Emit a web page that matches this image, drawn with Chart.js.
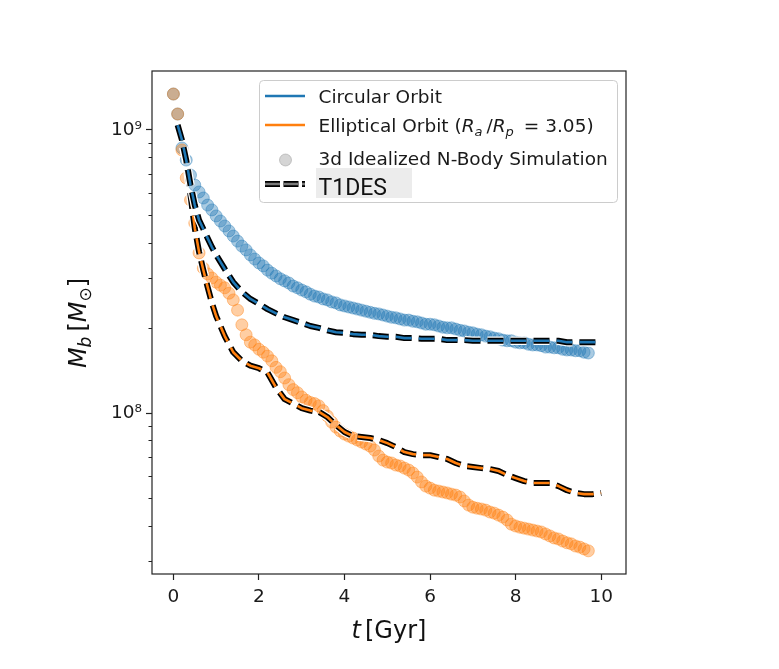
<!DOCTYPE html>
<html><head><meta charset="utf-8">
<script src="https://cdn.jsdelivr.net/npm/chart.js@4.4.0/dist/chart.umd.min.js"></script>
<style>html,body{margin:0;padding:0;background:#fff;}canvas{display:block;}</style>
</head><body>
<canvas id="c" width="779" height="669"></canvas>
<script>
// ---- data (masses in units of 1e8 Msun) ----
const MASS_UNIT = 1e8;
const tSim = [0.0,0.1,0.2,0.3,0.4,0.5,0.6,0.7,0.8,0.9,
  1.0,1.1,1.2,1.3,1.4,1.5,1.6,1.7,1.8,1.9,
  2.0,2.1,2.2,2.3,2.4,2.5,2.6,2.7,2.8,2.9,
  3.0,3.1,3.2,3.3,3.4,3.5,3.6,3.7,3.8,3.9,
  4.0,4.1,4.2,4.3,4.4,4.5,4.6,4.7,4.8,4.9,
  5.0,5.1,5.2,5.3,5.4,5.5,5.6,5.7,5.8,5.9,
  6.0,6.1,6.2,6.3,6.4,6.5,6.6,6.7,6.8,6.9,
  7.0,7.1,7.2,7.3,7.4,7.5,7.6,7.7,7.8,7.9,
  8.0,8.1,8.2,8.3,8.4,8.5,8.6,8.7,8.8,8.9,
  9.0,9.1,9.2,9.3,9.4,9.5,9.6,9.7];
const circularSim = [13.4,11.39,8.64,7.83,6.93,6.39,6.04,5.75,5.43,5.22,
  4.97,4.77,4.58,4.40,4.22,4.05,3.89,3.77,3.62,3.50,
  3.39,3.31,3.20,3.12,3.05,2.98,2.93,2.88,2.81,2.77,
  2.72,2.68,2.63,2.59,2.57,2.53,2.51,2.47,2.45,2.41,
  2.39,2.37,2.35,2.33,2.31,2.29,2.27,2.25,2.24,2.22,
  2.20,2.18,2.17,2.15,2.13,2.13,2.11,2.10,2.08,2.06,
  2.06,2.05,2.03,2.01,2.00,2.00,1.98,1.96,1.95,1.93,
  1.92,1.90,1.89,1.87,1.86,1.84,1.83,1.81,1.80,1.80,
  1.78,1.77,1.77,1.75,1.74,1.74,1.73,1.71,1.71,1.70,
  1.70,1.68,1.67,1.67,1.66,1.66,1.64,1.63];
const ellipticalSim = [13.4,11.39,8.50,6.77,5.66,4.69,3.68,3.25,3.10,3.00,
  2.90,2.83,2.77,2.65,2.51,2.31,2.05,1.89,1.78,1.74,
  1.68,1.64,1.59,1.53,1.45,1.40,1.33,1.26,1.21,1.18,
  1.14,1.11,1.09,1.08,1.06,1.02,0.976,0.929,0.892,0.864,
  0.843,0.829,0.816,0.803,0.790,0.777,0.764,0.740,0.705,0.682,
  0.671,0.666,0.655,0.650,0.639,0.629,0.614,0.594,0.571,0.552,
  0.543,0.534,0.530,0.526,0.522,0.517,0.513,0.505,0.489,0.473,
  0.465,0.461,0.458,0.454,0.447,0.443,0.436,0.429,0.419,0.405,
  0.399,0.395,0.392,0.389,0.386,0.383,0.380,0.374,0.368,0.362,
  0.359,0.353,0.348,0.345,0.339,0.336,0.331,0.326];
const tModel = [0.1,0.2,0.3,0.4,0.5,0.6,0.7,0.8,0.9,1.0,
  1.2,1.4,1.6,1.8,2.0,2.2,2.4,2.6,2.8,3.0,
  3.2,3.4,3.6,3.8,4.0,4.2,4.4,4.6,4.8,5.0,
  5.2,5.4,5.6,5.8,6.0,6.2,6.4,6.6,6.8,7.0,
  7.2,7.4,7.6,7.8,8.0,8.2,8.4,8.6,8.8,9.0,
  9.2,9.4,9.6,9.8,10.0];
const circularModel = [10.41,9.22,7.83,6.39,5.43,4.81,4.47,4.15,3.86,3.62,
  3.23,2.90,2.68,2.53,2.43,2.33,2.25,2.18,2.13,2.08,
  2.03,2.00,1.96,1.93,1.92,1.90,1.89,1.89,1.87,1.86,
  1.86,1.84,1.84,1.83,1.83,1.83,1.81,1.81,1.81,1.80,
  1.80,1.80,1.80,1.80,1.80,1.80,1.80,1.80,1.80,1.80,
  1.78,1.78,1.78,1.78,1.78];
const ellipticalModel = [10.41,9.22,7.83,5.89,4.50,3.71,3.20,2.79,2.45,2.20,
  1.87,1.64,1.53,1.47,1.44,1.39,1.23,1.12,1.08,1.04,
  1.02,1.01,0.968,0.907,0.857,0.829,0.823,0.816,0.803,0.783,
  0.758,0.728,0.716,0.710,0.710,0.699,0.688,0.666,0.650,0.645,
  0.639,0.634,0.624,0.604,0.589,0.575,0.566,0.566,0.566,0.552,
  0.534,0.522,0.517,0.517,0.522];
const xTicks = [0,2,4,6,8,10];
const yMajorTicks = [1e8,1e9];
const yMajorLabels = ['10⁸','10⁹'];
const yMinorTicks = [3e7,4e7,5e7,6e7,7e7,8e7,9e7,2e8,3e8,4e8,5e8,6e8,7e8,8e8,9e8];
const legendLabels = ['Circular Orbit','Elliptical Orbit (','3d Idealized N-Body Simulation','T1DES'];

// ---- styling ----
const FONT = '"DejaVu Sans", sans-serif';
const BLUE = '#1f77b4', ORANGE = '#ff7f0e';
const DASH = [16,7];
const toPts = (ts, vs) => ts.map((t,i) => ({x:t, y:vs[i]*MASS_UNIT}));

const lineDs = (label, ts, vs, color, width, order) => ({
  label, data: toPts(ts, vs), showLine:true, borderColor:color, backgroundColor:color,
  borderWidth:width, borderDash:DASH, borderCapStyle:'butt', borderJoinStyle:'round',
  pointRadius:0, pointHoverRadius:0, tension:0, fill:false, order
});
const simDs = (label, ts, vs, rgb, order) => ({
  label, data: toPts(ts, vs), showLine:false, pointRadius:6, pointHoverRadius:6,
  pointBorderWidth:1, pointBackgroundColor:`rgba(${rgb},0.38)`, pointBorderColor:`rgba(${rgb},0.42)`, order
});

const datasets = [
  lineDs('Circular T1DES', tModel, circularModel, BLUE, 2.6, 0),
  lineDs('Circular T1DES edge', tModel, circularModel, '#000', 6, 1),
  lineDs('Circular T1DES halo', tModel, circularModel, '#fff', 8.5, 2),
  lineDs('Elliptical T1DES', tModel, ellipticalModel, ORANGE, 2.6, 3),
  lineDs('Elliptical T1DES edge', tModel, ellipticalModel, '#000', 6, 4),
  lineDs('Elliptical T1DES halo', tModel, ellipticalModel, '#fff', 8.5, 5),
  simDs('Elliptical N-body', tSim, ellipticalSim, '255,127,14', 6),
  simDs('Circular N-body', tSim, circularSim, '31,119,180', 7)
];

function drawRich(ctx, x, y, segs) {
  for (const s of segs) {
    ctx.font = s.font;
    ctx.fillText(s.text, x, y + (s.dy || 0));
    x += ctx.measureText(s.text).width + (s.gap || 0);
  }
  return x;
}
function richWidth(ctx, segs) {
  let w = 0;
  for (const s of segs) { ctx.font = s.font; w += ctx.measureText(s.text).width + (s.gap || 0); }
  return w;
}

const deco = {
  id: 'deco',
  afterDraw(chart) {
    const {ctx, chartArea: a, scales: {y}} = chart;
    ctx.save();
    ctx.strokeStyle = '#222';
    ctx.lineWidth = 1;
    yMinorTicks.forEach(v => {
      const py = Math.round(y.getPixelForValue(v)) + 0.5;
      ctx.beginPath(); ctx.moveTo(a.left - 3.5, py); ctx.lineTo(a.left, py); ctx.stroke();
    });
    ctx.lineWidth = 1.2;
    ctx.strokeRect(a.left, a.top, a.right - a.left, a.bottom - a.top);

    ctx.fillStyle = '#111';
    ctx.textBaseline = 'alphabetic';
    ctx.textAlign = 'left';
    // x title
    const xt = [
      {text:'t', font:`oblique 24px ${FONT}`, gap:4},
      {text:'[Gyr]', font:`24px ${FONT}`}
    ];
    const xw = richWidth(ctx, xt);
    drawRich(ctx, (a.left + a.right)/2 - xw/2, 638, xt);
    // y title
    const yt = [
      {text:'M', font:`oblique 24px ${FONT}`},
      {text:'b', font:`oblique 17px ${FONT}`, dy:5, gap:5},
      {text:'[', font:`24px ${FONT}`},
      {text:'M', font:`oblique 24px ${FONT}`},
      {text:'⊙', font:`17px ${FONT}`, dy:5},
      {text:']', font:`24px ${FONT}`}
    ];
    const yw = richWidth(ctx, yt);
    ctx.save();
    ctx.translate(86, 323);
    ctx.rotate(-Math.PI/2);
    drawRich(ctx, -yw/2, 0, yt);
    ctx.restore();

    // legend
    const L = 259.5, T = 80.5, R = 617.5, B = 202.5;
    ctx.beginPath();
    ctx.roundRect(L, T, R - L, B - T, 4);
    ctx.fillStyle = 'rgba(255,255,255,0.85)';
    ctx.fill();
    ctx.strokeStyle = '#cccccc'; ctx.lineWidth = 1;
    ctx.stroke();
    const hx0 = 265, hx1 = 305, tx = 318.5;
    ctx.lineWidth = 2.7; ctx.lineCap = 'butt';
    ctx.strokeStyle = BLUE;
    ctx.beginPath(); ctx.moveTo(hx0, 96); ctx.lineTo(hx1, 96); ctx.stroke();
    ctx.strokeStyle = ORANGE;
    ctx.beginPath(); ctx.moveTo(hx0, 125); ctx.lineTo(hx1, 125); ctx.stroke();
    ctx.fillStyle = 'rgba(128,128,128,0.33)';
    ctx.strokeStyle = 'rgba(128,128,128,0.38)'; ctx.lineWidth = 1;
    ctx.beginPath(); ctx.arc(285.5, 160, 6, 0, Math.PI*2); ctx.fill(); ctx.stroke();
    ctx.setLineDash([15,3.5]);
    ctx.strokeStyle = '#000'; ctx.lineWidth = 6;
    ctx.beginPath(); ctx.moveTo(hx0, 184); ctx.lineTo(hx1, 184); ctx.stroke();
    ctx.strokeStyle = '#7a7a7a'; ctx.lineWidth = 2.6;
    ctx.beginPath(); ctx.moveTo(hx0, 184); ctx.lineTo(hx1, 184); ctx.stroke();
    ctx.setLineDash([]);

    ctx.fillStyle = '#1a1a1a';
    ctx.font = `18.5px ${FONT}`;
    ctx.fillText(legendLabels[0], tx, 103);
    drawRich(ctx, tx, 131.5, [
      {text:legendLabels[1], font:`18.5px ${FONT}`},
      {text:'R', font:`oblique 18.5px ${FONT}`},
      {text:'a', font:`oblique 13px ${FONT}`, dy:4, gap:4},
      {text:'/', font:`18.5px ${FONT}`},
      {text:'R', font:`oblique 18.5px ${FONT}`},
      {text:'p', font:`oblique 13px ${FONT}`, dy:4, gap:10},
      {text:'= 3.05)', font:`18.5px ${FONT}`}
    ]);
    ctx.font = `18.5px ${FONT}`;
    ctx.fillText(legendLabels[2], tx, 165);
    ctx.fillStyle = '#ececec';
    ctx.fillRect(316, 168, 96, 30);
    ctx.fillStyle = '#111';
    ctx.font = `23px Roboto, ${FONT}`;
    ctx.fillText(legendLabels[3], tx, 195);
    ctx.restore();
  }
};

new Chart(document.getElementById('c'), {
  type: 'scatter',
  data: { datasets },
  options: {
    responsive: false,
    animation: false,
    devicePixelRatio: 1,
    events: [],
    layout: { padding: { top: 71, right: 153, left: 0, bottom: 0 } },
    plugins: { legend: { display: false }, tooltip: { enabled: false } },
    scales: {
      x: {
        type: 'linear', min: -0.5, max: 10.58,
        afterBuildTicks: s => { s.ticks = xTicks.map(v => ({value: v})); },
        afterFit: s => { s.height = 95; },
        border: { display: false },
        grid: { drawOnChartArea: false, drawTicks: true, tickLength: 6, tickColor: '#222', tickWidth: 1.2 },
        ticks: { font: { family: FONT, size: 18.5 }, color: '#1a1a1a', padding: 6, maxRotation: 0,
                 callback: v => String(v) }
      },
      y: {
        type: 'logarithmic', min: 2.7e7, max: 1.616e9,
        afterBuildTicks: s => {
          s.ticks = [...yMinorTicks, ...yMajorTicks].sort((p, q) => p - q).map(v => ({value: v, major: yMajorTicks.includes(v)}));
        },
        afterFit: s => { s.width = 152; },
        border: { display: false },
        grid: { drawOnChartArea: false, drawTicks: true, tickLength: 6, tickWidth: 1.2,
                tickColor: c => (c.tick && yMajorTicks.includes(c.tick.value)) ? '#222' : 'rgba(0,0,0,0)' },
        ticks: { autoSkip: false, font: { family: FONT, size: 18.5 }, color: '#1a1a1a', padding: 4,
                 callback: v => { const i = yMajorTicks.indexOf(v); return i >= 0 ? yMajorLabels[i] : ''; } }
      }
    }
  },
  plugins: [deco]
});
</script>
</body></html>
